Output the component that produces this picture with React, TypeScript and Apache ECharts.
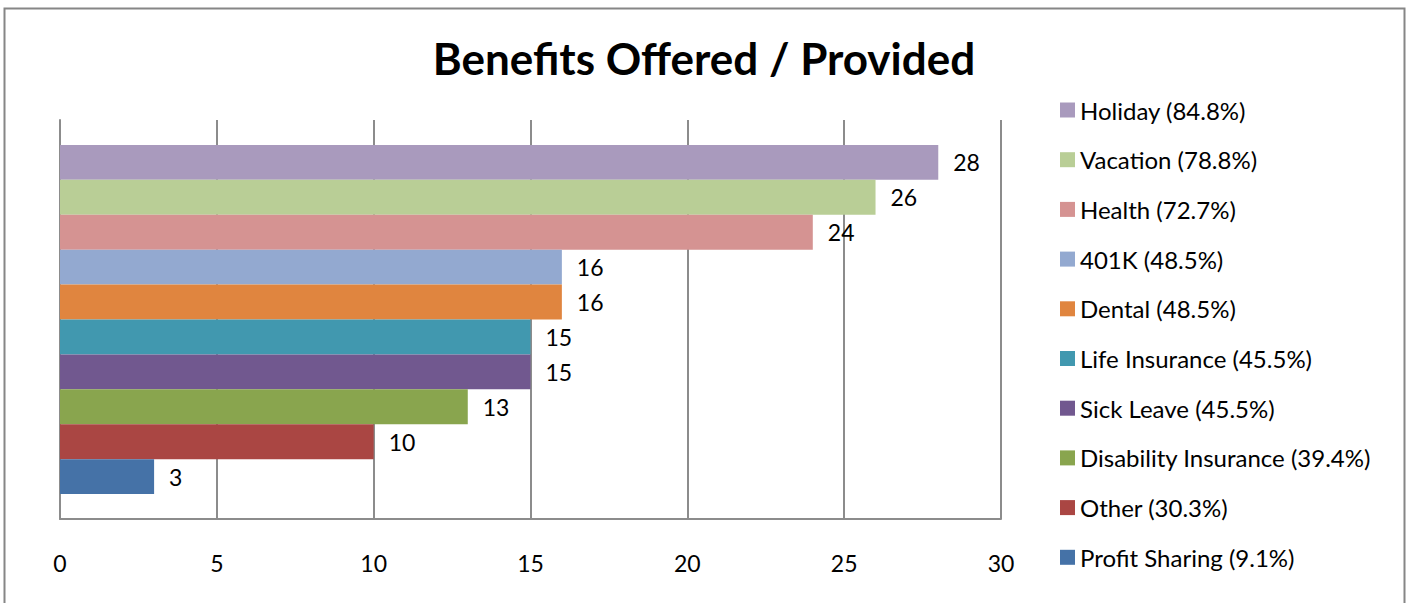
import React, { useEffect, useRef } from "react";
import * as echarts from "echarts";

const seriesNames = [
  "Holiday (84.8%)",
  "Vacation (78.8%)",
  "Health (72.7%)",
  "401K (48.5%)",
  "Dental (48.5%)",
  "Life Insurance (45.5%)",
  "Sick Leave (45.5%)",
  "Disability Insurance (39.4%)",
  "Other (30.3%)",
  "Profit Sharing (9.1%)",
];
const seriesValues = [28, 26, 24, 16, 16, 15, 15, 13, 10, 3];
const seriesColors = [
  "#A99ABD",
  "#B9CE96",
  "#D59392",
  "#93A9D0",
  "#E0853F",
  "#4198AF",
  "#71588F",
  "#89A54E",
  "#AA4643",
  "#4572A7",
];
const categories = ["Benefits"];
const xMin = 0;
const xMax = 30;
const xInterval = 5;

const FONT = "Lato, 'Open Sans', sans-serif";

export default function App() {
  const ref = useRef<HTMLDivElement>(null);
  useEffect(() => {
    if (!ref.current) return;
    const chart = echarts.init(ref.current, undefined, { renderer: "svg" });
    chart.setOption({
      animation: false,
      backgroundColor: "#ffffff",
      textStyle: { fontFamily: FONT },
      title: {
        text: "Benefits Offered / Provided",
        left: 704,
        textAlign: "center",
        top: 36,
        padding: 0,
        textStyle: { fontSize: 44, fontWeight: "bold", color: "#000", fontFamily: FONT },
      },
      graphic: [
        {
          type: "rect",
          shape: { x: 4.5, y: 8.5, width: 1400, height: 700 },
          style: { fill: "none", stroke: "#868686", lineWidth: 2 },
          silent: true,
        },
      ],
      legend: {
        orient: "vertical",
        left: 1060,
        top: 98,
        padding: 0,
        itemWidth: 15,
        itemHeight: 15,
        itemGap: 25.7,
        itemTextGap: 6,
        icon: "rect",
        data: seriesNames,
        textStyle: { fontSize: 24, lineHeight: 24, color: "#000", fontFamily: FONT },
      },
      grid: { left: 60, right: 407, top: 120, bottom: 84, containLabel: false },
      xAxis: {
        type: "value",
        min: xMin,
        max: xMax,
        interval: xInterval,
        axisLine: { show: true, lineStyle: { color: "#8c8c8c", width: 2 } },
        axisTick: { show: false },
        axisLabel: { fontSize: 23, color: "#000", margin: 32, fontFamily: FONT },
        splitLine: { show: true, lineStyle: { color: "#8c8c8c", width: 2 } },
      },
      yAxis: {
        type: "category",
        data: categories,
        axisLine: { show: true, lineStyle: { color: "#8c8c8c", width: 2 } },
        axisTick: { show: false },
        axisLabel: { show: false },
      },
      series: seriesNames.map((name, i) => ({
        name,
        type: "bar",
        data: [seriesValues[i]],
        barGap: "0%",
        barCategoryGap: "12.5%",
        itemStyle: { color: seriesColors[i] },
        label: {
          show: true,
          position: "right",
          distance: 15,
          fontSize: 23,
          color: "#000",
          fontFamily: FONT,
        },
      })),
    });
    return () => chart.dispose();
  }, []);
  return (
    <div
      ref={ref}
      style={{ position: "absolute", left: 0, top: 0, width: 1408, height: 603 }}
    />
  );
}
